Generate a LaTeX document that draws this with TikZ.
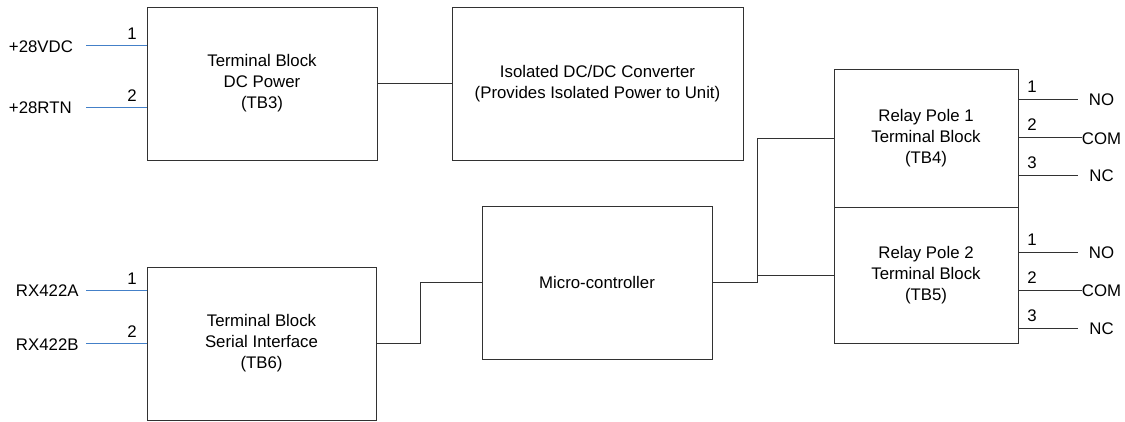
\documentclass[tikz,border=0pt]{standalone}
\usepackage{fontspec}
\setmainfont{Liberation Sans}
\definecolor{wireblue}{RGB}{68,128,200}
\definecolor{edge}{RGB}{50,50,50}
\begin{document}
\begin{tikzpicture}[x=1pt,y=-1pt,
  blk/.style={draw=edge,line width=1pt,inner sep=0pt,outer sep=0pt,align=center,
    font=\fontsize{16.8}{21}\selectfont},
  lbl/.style={inner sep=0pt,outer sep=0pt,font=\fontsize{16.8}{20}\selectfont},
  wire/.style={draw=edge,line width=1pt},
  bwire/.style={draw=wireblue,line width=1.6pt}]
\useasboundingbox (0,0) rectangle (1125,421);
% blocks
\node[blk,minimum width=230pt,minimum height=153pt] (tb3) at (262,83.5) {Terminal Block\\DC Power\\(TB3)};
\node[blk,minimum width=291pt,minimum height=153pt] (iso) at (597.5,83.5) {Isolated DC/DC Converter\\(Provides Isolated Power to Unit)};
\node[blk,minimum width=229pt,minimum height=153pt] (tb6) at (261.5,343.5) {Terminal Block\\Serial Interface\\(TB6)};
\node[blk,minimum width=230pt,minimum height=153pt] (mc) at (597,282.5) {Micro-controller};
\node[blk,minimum width=184pt,minimum height=138pt] (tb4) at (926,138) {Relay Pole 1\\Terminal Block\\(TB4)};
\node[blk,minimum width=184pt,minimum height=136pt] (tb5) at (926,275) {Relay Pole 2\\Terminal Block\\(TB5)};
% connectors between blocks
\draw[wire] (tb3.east) -- (iso.west);
\draw[wire] (tb6.east) -- ++(44,0) |- (mc.west);
\coordinate (j) at (757,0);
\draw[wire] (mc.east) -| (j |- tb4.west) -- (tb4.west);
\draw[wire] (j |- tb5.west) -- (tb5.west);
% power inputs
\coordinate (a1) at (86,45.5);
\coordinate (a2) at (86,107.5);
\draw[bwire] (a1) -- (a1 -| tb3.west);
\draw[bwire] (a2) -- (a2 -| tb3.west);
\node[lbl,anchor=base west] (la1) at (9,52.5) {+28VDC};
\node[lbl,anchor=base west] (la2) at (9,113) {+28RTN};
\node[lbl,anchor=base] (na1) at (132,39.5) {1};
\node[lbl,anchor=base] (na2) at (132,101) {2};
% serial inputs
\coordinate (b1) at (86,290.5);
\coordinate (b2) at (86,343.5);
\draw[bwire] (b1) -- (b1 -| tb6.west);
\draw[bwire] (b2) -- (b2 -| tb6.west);
\node[lbl,anchor=base west] (lb1) at (16,296.5) {RX422A};
\node[lbl,anchor=base west] (lb2) at (16,350) {RX422B};
\node[lbl,anchor=base] (nb1) at (132,284) {1};
\node[lbl,anchor=base] (nb2) at (132,337.5) {2};
% relay pole 1 outputs
\coordinate (r1) at (1078,99);
\coordinate (r2) at (1082,137.5);
\coordinate (r3) at (1078,175);
\draw[wire] (r1 -| tb4.east) -- (r1);
\draw[wire] (r2 -| tb4.east) -- (r2);
\draw[wire] (r3 -| tb4.east) -- (r3);
\node[lbl,anchor=base] (nr1) at (1032,92) {1};
\node[lbl,anchor=base] (nr2) at (1032,130.5) {2};
\node[lbl,anchor=base] (nr3) at (1032,168) {3};
\node[lbl,anchor=base] (lr1) at (1101.5,105.5) {NO};
\node[lbl,anchor=base] (lr2) at (1101.5,144) {COM};
\node[lbl,anchor=base] (lr3) at (1101.5,181.5) {NC};
% relay pole 2 outputs
\coordinate (s1) at (1078,252);
\coordinate (s2) at (1082,290);
\coordinate (s3) at (1078,328);
\draw[wire] (s1 -| tb5.east) -- (s1);
\draw[wire] (s2 -| tb5.east) -- (s2);
\draw[wire] (s3 -| tb5.east) -- (s3);
\node[lbl,anchor=base] (ns1) at (1032,245) {1};
\node[lbl,anchor=base] (ns2) at (1032,283) {2};
\node[lbl,anchor=base] (ns3) at (1032,321) {3};
\node[lbl,anchor=base] (ls1) at (1101.5,258.5) {NO};
\node[lbl,anchor=base] (ls2) at (1101.5,296.5) {COM};
\node[lbl,anchor=base] (ls3) at (1101.5,334.5) {NC};
\end{tikzpicture}
\end{document}
